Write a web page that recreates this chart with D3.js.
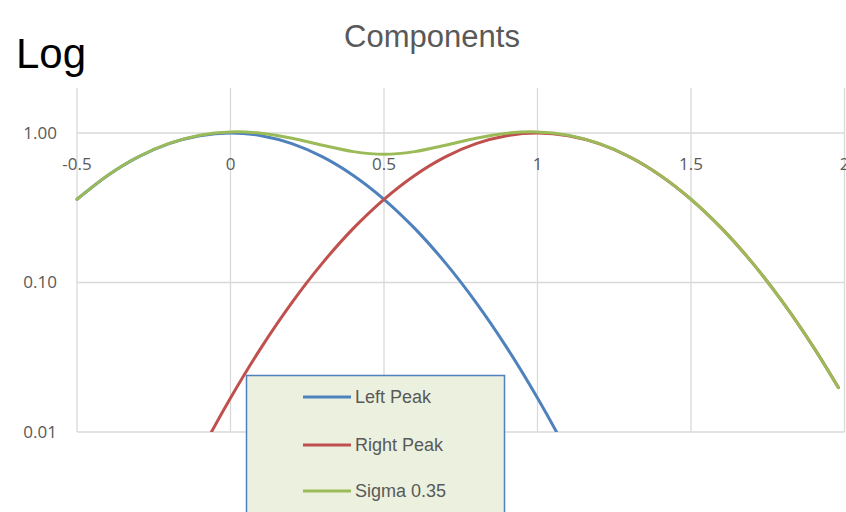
<!DOCTYPE html>
<html><head><meta charset="utf-8">
<script src="https://cdn.jsdelivr.net/npm/d3@7"></script>
<style>body{margin:0;background:#fff}svg{display:block}</style>
</head><body>
<svg id="c" width="846" height="512"></svg>
<script>
const xValues = [-0.5,-0.4,-0.3,-0.2,-0.1,0,0.1,0.2,0.3,0.4,0.5,0.6,0.7,0.8,0.9,1.0,1.1,1.2,1.3,1.4,1.5,1.6,1.7,1.8,1.9,1.98];
const leftPeak  = [0.3604,0.5205,0.6926,0.8493,0.9600,1.0,0.9600,0.8493,0.6926,0.5205,0.3604,0.2301,0.1353,0.0734,0.0367,0.01688,0.00716,0.00280,null,null,null,null,null,null,null,null];
const rightPeak = [null,null,null,0.00280,0.00716,0.01688,0.0367,0.0734,0.1353,0.2301,0.3604,0.5205,0.6926,0.8493,0.9600,1.0,0.9600,0.8493,0.6926,0.5205,0.3604,0.2301,0.1353,0.0734,0.0367,0.01984];
const sigma035  = [0.3605,0.5208,0.6936,0.8521,0.9672,1.0169,0.9967,0.9227,0.8279,0.7506,0.7208,0.7506,0.8279,0.9227,0.9967,1.0169,0.9672,0.8521,0.6936,0.5208,0.3605,0.2301,0.1353,0.0734,0.0367,0.0198];
const seriesNames = ["Left Peak","Right Peak","Sigma 0.35"];
const seriesColors = ["#4f81bd","#c0504d","#9bbb59"];
const xTicks = [-0.5,0,0.5,1,1.5,2];
const xTickLabels = ["-0.5","0","0.5","1","1.5","2"];
const yTicks = [1,0.1,0.01];
const yTickLabels = ["1.00","0.10","0.01"];

const svg = d3.select("#c");
const L = 77, R = 844.5, T = 88, B = 432;
const x = d3.scaleLinear().domain([-0.5,2]).range([L,R]);
const y = d3.scaleLog().domain([0.01,2]).range([B,T]);
const grey = "#595959";

svg.append("text").attr("x",16).attr("y",68).attr("font-family","Liberation Sans, Arial").attr("font-size",42).attr("fill","#000").text("Log");
svg.append("text").attr("x",432).attr("y",47).attr("text-anchor","middle").attr("font-family","Liberation Sans, Arial").attr("font-size",31).attr("fill",grey).text("Components");

svg.append("defs").append("clipPath").attr("id","pc").append("rect").attr("x",L-2).attr("y",T).attr("width",R-L+4).attr("height",B-T);

const g = svg.append("g");
g.selectAll("line.vg").data(xTicks).join("line").attr("class","vg")
 .attr("x1",d=>x(d)).attr("x2",d=>x(d)).attr("y1",T).attr("y2",B)
 .attr("stroke","#d9d9d9").attr("stroke-width",1.3);
g.selectAll("line.hg").data(yTicks).join("line").attr("class","hg")
 .attr("x1",L).attr("x2",R).attr("y1",d=>y(d)).attr("y2",d=>y(d))
 .attr("stroke","#d9d9d9").attr("stroke-width",1.3);

g.selectAll("text.yl").data(yTicks).join("text").attr("class","yl")
 .attr("x",57).attr("y",d=>y(d)).attr("dy","0.35em").attr("text-anchor","end")
 .attr("font-family","Open Sans, Liberation Sans").attr("font-size",17).attr("fill",grey)
 .text((d,i)=>yTickLabels[i]);
g.selectAll("text.xl").data(xTicks).join("text").attr("class","xl")
 .attr("x",d=>x(d)).attr("y",y(1)+37).attr("text-anchor","middle")
 .attr("font-family","Open Sans, Liberation Sans").attr("font-size",17).attr("fill",grey)
 .text((d,i)=>xTickLabels[i]);

const series = [leftPeak,rightPeak,sigma035];
const line = d3.line().defined(d=>d.v!=null).x(d=>x(d.x)).y(d=>y(d.v)).curve(d3.curveCatmullRom.alpha(0.5));
const lg = svg.append("g").attr("clip-path","url(#pc)");
series.forEach((s,i)=>{
  const data = xValues.map((xv,j)=>({x:xv,v:s[j]}));
  lg.append("path").datum(data).attr("d",line).attr("fill","none")
    .attr("stroke",seriesColors[i]).attr("stroke-width",3).attr("stroke-linecap","round");
});

const leg = svg.append("g");
leg.append("rect").attr("x",246.5).attr("y",375.5).attr("width",258).attr("height",150)
  .attr("fill","#ebf1de").attr("stroke","#4f81bd").attr("stroke-width",1.5);
const rowsY = [397,445,491];
seriesNames.forEach((n,i)=>{
  leg.append("line").attr("x1",303).attr("x2",351).attr("y1",rowsY[i]).attr("y2",rowsY[i])
    .attr("stroke",seriesColors[i]).attr("stroke-width",3);
  leg.append("text").attr("x",355).attr("y",rowsY[i]).attr("dy","0.35em")
    .attr("font-family","Liberation Sans, Arial").attr("font-size",18).attr("fill",grey).text(n);
});
</script>
</body></html>
